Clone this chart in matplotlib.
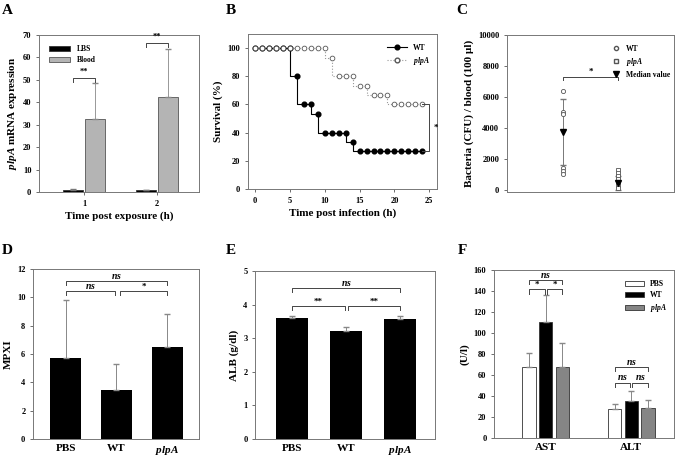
import matplotlib.pyplot as plt
from matplotlib.lines import Line2D

# ---- data -------------------------------------------------------------
# A: plpA expression
a_times = [1, 2]
a_lbs = [1.0, 0.9]
a_lbs_err = [0.25, 0.2]
a_blood = [32.5, 42.3]
a_blood_err = [16.0, 21.4]

# B: survival
b_time = list(range(0, 25))
b_wt = [100, 100, 100, 100, 100, 100, 80, 60, 60, 53.3, 40, 40, 40, 40, 33.3,
        26.7, 26.7, 26.7, 26.7, 26.7, 26.7, 26.7, 26.7, 26.7, 26.7]
b_plpa = [100, 100, 100, 100, 100, 100, 100, 100, 100, 100, 100, 93.3, 80, 80, 80,
          73.3, 73.3, 66.7, 66.7, 66.7, 60, 60, 60, 60, 60]

# C: bacteria in blood
c_wt = [6400, 5000, 4900, 1400, 1200, 1000]
c_plpa = [1300, 1100, 900, 700, 500, 280, 100]
c_median = [3700, 400]
c_err_low = [1575, 0]
c_err_high = [5830, 900]

# D/E: MPXI and ALB
groups = ["PBS", "WT", "plpA"]
d_vals = [5.75, 3.45, 6.5]
d_err = [4.03, 1.85, 2.3]
e_vals = [3.6, 3.2, 3.58]
e_err = [0.06, 0.14, 0.09]

# F: AST / ALT
f_cats = ["AST", "ALT"]
f_pbs = [68, 27.5]
f_pbs_err = [12.5, 5]
f_wt = [110.5, 35.5]
f_wt_err = [25.5, 9.5]
f_plpa = [68, 29]
f_plpa_err = [22, 7.5]

# ---- style -------------------------------------------------------------
plt.rcParams.update({
    "font.family": "Liberation Serif",
    "font.weight": "bold",
    "axes.labelweight": "bold",
    "font.size": 6,
    "axes.labelsize": 8,
    "xtick.labelsize": 6,
    "ytick.labelsize": 6,
    "axes.edgecolor": "#777777",
    "axes.linewidth": 0.7,
    "xtick.major.size": 2,
    "ytick.major.size": 2,
    "xtick.major.width": 0.6,
    "ytick.major.width": 0.6,
    "xtick.color": "#555555",
    "ytick.color": "#555555",
    "xtick.labelcolor": "black",
    "ytick.labelcolor": "black",
    "mathtext.fontset": "custom",
    "mathtext.rm": "Liberation Serif:bold",
    "mathtext.it": "Liberation Serif:italic:bold",
    "mathtext.bf": "Liberation Serif:bold",
})

PLPA = r"$\it{plpA}$"
NS = r"$\it{ns}$"
BR = "#444444"


def bracket(ax, x1, x2, y, h, text, fs=6, dy=0.0):
    ax.plot([x1, x1, x2, x2], [y - h, y, y, y - h], color=BR, lw=0.7)
    ax.text((x1 + x2) / 2, y + dy, text, ha="center", va="bottom", fontsize=fs)


fig = plt.figure(figsize=(6.83, 4.58), dpi=100)

axA = fig.add_axes([0.0571, 0.5808, 0.234, 0.3428])
axB = fig.add_axes([0.3631, 0.5873, 0.2767, 0.3384])
axC = fig.add_axes([0.7423, 0.5808, 0.2445, 0.3428])
axD = fig.add_axes([0.0483, 0.0415, 0.243, 0.3712])
axE = fig.add_axes([0.3734, 0.0415, 0.2635, 0.3668])
axF = fig.add_axes([0.7233, 0.0437, 0.2635, 0.3668])

# ---- A ----------------------------------------------------------------
w = 0.275
xl = [t - 0.147 for t in a_times]
xb = [t + 0.15 for t in a_times]
axA.bar(xl, a_lbs, w, color="black", edgecolor="#333333", lw=0.6, label="LBS")
axA.bar(xb, a_blood, w, color="#b4b4b4", edgecolor="#555555", lw=0.6, label="Blood")
axA.errorbar(xl, a_lbs, yerr=[[0, 0], a_lbs_err], fmt="none", ecolor="#777777", elinewidth=0.6, capsize=2)
axA.errorbar(xb, a_blood, yerr=[[0, 0], a_blood_err], fmt="none", ecolor="#888888", elinewidth=0.6, capsize=2)
bracket(axA, xl[0], xb[0], 51, 1.8, "**", dy=0.8)
bracket(axA, xl[1], xb[1], 66.6, 1.8, "**", dy=0.8)
axA.set_xlim(0.38, 2.58)
axA.set_ylim(0, 70)
axA.set_xticks(a_times)
axA.set_yticks(range(0, 71, 10))
axA.set_xlabel("Time post exposure (h)", labelpad=3)
axA.set_ylabel(PLPA + " mRNA expression", labelpad=3)
axA.legend(loc="upper left", bbox_to_anchor=(0.02, 0.98), frameon=False,
           fontsize=5.5, handlelength=2.8, handleheight=0.6, labelspacing=0.4)

# ---- B ----------------------------------------------------------------
axB.step(b_time, b_wt, where="pre", color="black", lw=0.8)
axB.plot(b_time, b_wt, "o", color="black", ms=3.4)
axB.step(b_time, b_plpa, where="pre", color="#999999", lw=0.8, ls=":")
axB.plot(b_time, b_plpa, "o", mfc="white", mec="#555555", mew=0.6, ms=3.4)
axB.plot([24, 25, 25, 24], [b_wt[-1], b_wt[-1], b_plpa[-1], b_plpa[-1]], color=BR, lw=0.7)
axB.text(26, (b_wt[-1] + b_plpa[-1]) / 2, "*", ha="center", va="center", fontsize=6.5)
axB.set_xlim(-1, 26.1)
axB.set_ylim(0, 110)
axB.set_xticks(range(0, 26, 5))
axB.set_yticks(range(0, 101, 20))
axB.set_xlabel("Time post infection (h)", labelpad=3)
axB.set_ylabel("Survival (%)", labelpad=3)
hB = [Line2D([], [], color="black", lw=0.8, marker="o", ms=3.4),
      Line2D([], [], color="#999999", lw=0.8, ls=":", marker="o", mfc="white", mec="#555555", ms=3.4)]
axB.legend(hB, ["WT", PLPA], loc="upper right", bbox_to_anchor=(1.0, 0.98), frameon=False,
           fontsize=5.5, handlelength=2.6, labelspacing=0.4)

# ---- C ----------------------------------------------------------------
axC.errorbar([1, 2], c_median,
             yerr=[[m - lo for m, lo in zip(c_median, c_err_low)],
                   [hi - m for m, hi in zip(c_median, c_err_high)]],
             fmt="none", ecolor="#777777", elinewidth=0.7, capsize=2)
axC.plot([1] * len(c_wt), c_wt, "o", mfc="white", mec="#555555", mew=0.6, ms=3)
axC.plot([2] * len(c_plpa), c_plpa, "s", mfc="white", mec="#555555", mew=0.6, ms=2.8)
axC.plot([1, 2], c_median, "v", color="black", ms=4.5)
bracket(axC, 1, 2, 7300, 220, "*", fs=6.5, dy=80)
axC.set_xlim(0, 3)
axC.set_ylim(-150, 10000)
axC.set_xticks([])
axC.set_yticks(range(0, 10001, 2000))
axC.set_ylabel("Bacteria (CFU) / blood (100 \u00b5l)", labelpad=3)
hC = [Line2D([], [], ls="none", marker="o", mfc="white", mec="#555555", ms=3),
      Line2D([], [], ls="none", marker="s", mfc="white", mec="#555555", ms=2.8),
      Line2D([], [], ls="none", marker="v", color="black", ms=4.5)]
axC.legend(hC, ["WT", PLPA, "Median value"], loc="upper right", bbox_to_anchor=(1.02, 0.98),
           frameon=False, fontsize=5.5, handlelength=1.2, labelspacing=0.4)

# ---- D ----------------------------------------------------------------
xs = list(range(len(groups)))
tick_names = ["PBS", "WT", PLPA]
axD.bar(xs, d_vals, 0.61, color="black")
axD.errorbar(xs, d_vals, yerr=[[0] * 3, d_err], fmt="none", ecolor="#888888", elinewidth=0.7, capsize=2)
bracket(axD, 0, 2, 11.13, 0.28, NS, fs=7, dy=0.0)
bracket(axD, 0, 0.97, 10.42, 0.28, NS, fs=7, dy=0.0)
bracket(axD, 1.07, 2, 10.42, 0.28, "*", fs=6.5, dy=0.02)
axD.set_xlim(-0.65, 2.63)
axD.set_ylim(0, 12)
axD.set_xticks(xs)
axD.set_xticklabels(tick_names, fontsize=8)
axD.tick_params(axis="x", length=0)
axD.set_yticks(range(0, 13, 2))
axD.set_ylabel("MPXI", labelpad=3)

# ---- E ----------------------------------------------------------------
axE.bar(xs, e_vals, 0.6, color="black")
axE.errorbar(xs, e_vals, yerr=[[0] * 3, e_err], fmt="none", ecolor="#888888", elinewidth=0.7, capsize=2)
bracket(axE, 0, 2, 4.5, 0.12, NS, fs=7, dy=0.0)
bracket(axE, 0, 0.98, 3.96, 0.12, "**", fs=6.5, dy=0.01)
bracket(axE, 1.03, 2, 3.96, 0.12, "**", fs=6.5, dy=0.01)
axE.set_xlim(-0.69, 2.65)
axE.set_ylim(0, 5)
axE.set_xticks(xs)
axE.set_xticklabels(tick_names, fontsize=8)
axE.tick_params(axis="x", length=0)
axE.set_yticks(range(0, 6))
axE.set_ylabel("ALB (g/dl)", labelpad=3)

# ---- F ----------------------------------------------------------------
fw = 0.156
step = 0.195
fx = [0, 1]
series = [(f_pbs, f_pbs_err, "white", -step, "PBS"),
          (f_wt, f_wt_err, "black", 0, "WT"),
          (f_plpa, f_plpa_err, "#858585", step, PLPA)]
for vals, errs, col, off, lab in series:
    pos = [x + off for x in fx]
    axF.bar(pos, vals, fw, color=col, edgecolor="#333333", lw=0.6, label=lab)
    axF.errorbar(pos, vals, yerr=[[0, 0], errs], fmt="none", ecolor="#888888", elinewidth=0.7, capsize=2)
for g, top, low in [(0, 150.4, 141.5), (1, 67.7, 52.8)]:
    bracket(axF, g - step, g + step, top, 4, NS, fs=7, dy=0.2)
    lab = "*" if g == 0 else NS
    bracket(axF, g - step, g - 0.01, low, 4, lab, fs=7 if g else 6.5, dy=0.3)
    bracket(axF, g + 0.01, g + step, low, 4, lab, fs=7 if g else 6.5, dy=0.3)
axF.set_xlim(-0.605, 1.5)
axF.set_ylim(0, 160)
axF.set_xticks(fx)
axF.set_xticklabels(f_cats, fontsize=8)
axF.tick_params(axis="x", length=0)
axF.set_yticks(range(0, 161, 20))
axF.set_ylabel("(U/l)", labelpad=3)
axF.legend(loc="upper right", bbox_to_anchor=(1.0, 0.98), frameon=False,
           fontsize=5.5, handlelength=2.5, handleheight=0.7, labelspacing=0.4)

# ---- panel letters ------------------------------------------------------
for lab, x, y in [("A", 7, 10), ("B", 231, 10), ("C", 462, 10),
                  ("D", 7, 250), ("E", 231, 250), ("F", 462, 250)]:
    fig.text(x / 683, 1 - y / 458, lab, fontsize=11, fontweight="bold", ha="center", va="center")

fig.savefig("out.png", dpi=100)
